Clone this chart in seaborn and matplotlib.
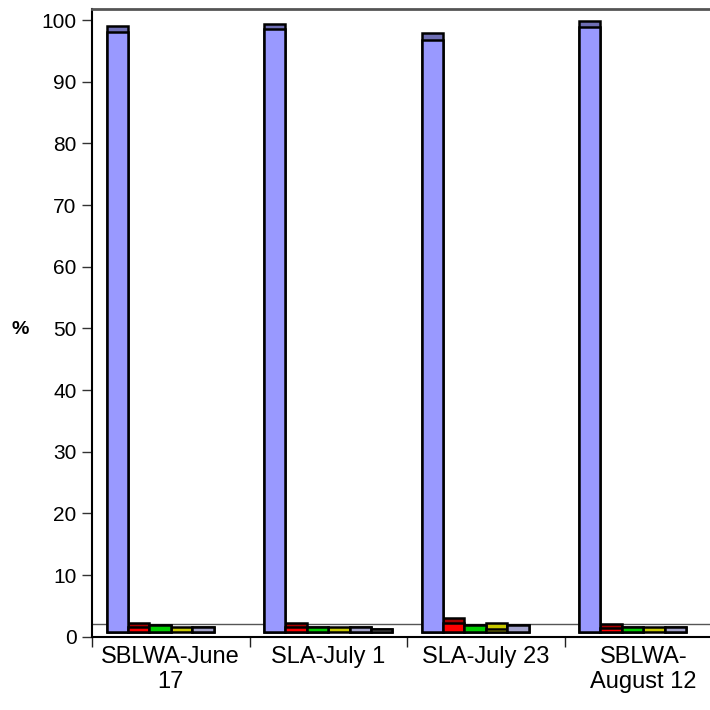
import numpy as np
import pandas as pd
import matplotlib
matplotlib.use("Agg")
import matplotlib.pyplot as plt
import seaborn as sns

# Sampling dates (x categories)
groups = ["SBLWA-June\n17", "SLA-July 1", "SLA-July 23", "SBLWA-\nAugust 12"]

# Six fractions per sample; each bar has a lower value and an upper (cap) value
fractions = ["F1", "F2", "F3", "F4", "F5", "F6"]
nan = np.nan
low_f1 = [98.1, 98.6, 96.8, 98.8]
high_f1 = [99.1, 99.3, 97.9, 99.9]
low_f2 = [1.5, 1.5, 2.2, 1.35]
high_f2 = [2.3, 2.3, 3.0, 2.0]
low_f3 = [1.9, 1.55, 1.9, 1.55]
high_f3 = [1.9, 1.55, 1.9, 1.55]
low_f4 = [nan, nan, 1.2, nan]
high_f4 = [1.55, 1.55, 2.3, 1.55]
low_f5 = [1.55, 1.55, 1.9, 1.55]
high_f5 = [1.55, 1.55, 1.9, 1.55]
low_f6 = [nan, 1.25, nan, nan]
high_f6 = [nan, 1.25, nan, nan]

reference_level = 2.0   # horizontal reference line
bar_base = 0.7          # bars rise from just above the axis

light_colors = ["#9999FF", "#FF0000", "#00CC00", "#FFFF00", "#A3A3CC", "#A8A8A8"]
dark_colors = ["#6F6FB5", "#A80000", "#00A000", "#C8C800", "#A3A3CC", "#A8A8A8"]

lows = [low_f1, low_f2, low_f3, low_f4, low_f5, low_f6]
highs = [high_f1, high_f2, high_f3, high_f4, high_f5, high_f6]


def long_table(values):
    rows = []
    for name, vals in zip(fractions, values):
        for g, v in zip(groups, vals):
            if not np.isnan(v):
                rows.append({"sample": g, "fraction": name, "value": v,
                             "height": v - bar_base})
    return pd.DataFrame(rows)


df_high = long_table(highs)
df_low = long_table(lows)

sns.set_theme(style="ticks")
plt.rcParams["font.family"] = ["Liberation Sans", "DejaVu Sans"]
plt.rcParams["text.color"] = "black"
plt.rcParams["xtick.labelcolor"] = "black"
plt.rcParams["ytick.labelcolor"] = "black"

fig = plt.figure(figsize=(7.1, 7.1), dpi=100)
ax = fig.add_axes([92 / 710, 73.3 / 710, 630 / 710, 627.7 / 710])

bar_kw = dict(x="sample", y="height", hue="fraction", order=groups,
              hue_order=fractions, width=0.815, bottom=bar_base,
              edgecolor="black", linewidth=1.8, saturation=1,
              errorbar=None, legend=False, ax=ax, zorder=3)

# Full bars up to the cap value in the darker shade, then the lower part on top
sns.barplot(data=df_high, palette=dark_colors, **bar_kw)
sns.barplot(data=df_low, palette=light_colors, **bar_kw)

ax.axhline(reference_level, color="#555555", linewidth=1.0, zorder=1)

ax.set_xlim(-0.5, len(groups) - 0.5)
ax.set_ylim(0, 101.8)
ax.set_yticks(np.arange(0, 101, 10))

ax.set_xticks(range(len(groups)))
ax.set_xticklabels(groups, fontsize=17, linespacing=1.15, color="black")
ax.set_xticks(np.arange(-0.5, len(groups), 1.0), minor=True)
ax.tick_params(axis="x", which="major", length=0, pad=7)
ax.tick_params(axis="x", which="minor", length=7.5, width=1.0,
               color="#222222", direction="out")
ax.tick_params(axis="y", length=7.5, width=1.0, color="#333333",
               pad=3.5, labelsize=15, labelcolor="black")

ax.set_xlabel("")
ax.set_ylabel("%", rotation=0, fontsize=14, fontweight="bold",
              va="center", ha="center", color="black")
ax.yaxis.set_label_coords(-0.114, 0.489)

for side in ["left", "bottom"]:
    ax.spines[side].set_color("black")
    ax.spines[side].set_linewidth(1.5)
ax.spines["top"].set_visible(True)
ax.spines["top"].set_color("#555555")
ax.spines["top"].set_linewidth(2.0)
ax.spines["right"].set_color("#555555")

fig.savefig("out.png", dpi=100)
